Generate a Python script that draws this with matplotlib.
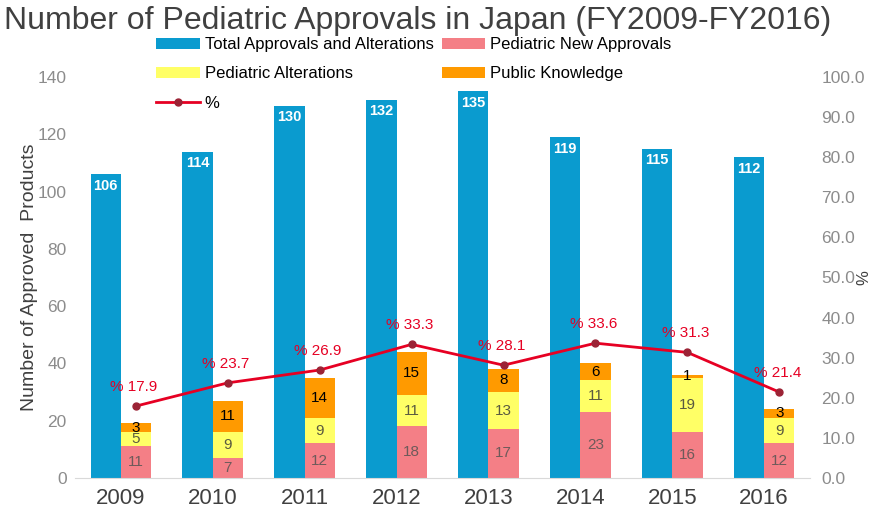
import matplotlib.pyplot as plt
import numpy as np

plt.rcParams['font.family'] = ['Liberation Sans', 'DejaVu Sans']

years = ['2009', '2010', '2011', '2012', '2013', '2014', '2015', '2016']
total = [106, 114, 130, 132, 135, 119, 115, 112]
new_appr = [11, 7, 12, 18, 17, 23, 16, 12]
alterations = [5, 9, 9, 11, 13, 11, 19, 9]
public = [3, 11, 14, 15, 8, 6, 1, 3]
pct = [17.9, 23.7, 26.9, 33.3, 28.1, 33.6, 31.3, 21.4]

c_blue = '#0A9BCF'
c_pink = '#F47F86'
c_yel = '#FFFF66'
c_org = '#FF9A00'
c_line = '#E60023'

fig = plt.figure(figsize=(8.71, 5.11), dpi=100)
ax = fig.add_axes([0.086, 0.065, 0.844, 0.784])
ax2 = ax.twinx()

x = np.arange(len(years))
w = 0.33

b1 = ax.bar(x - w / 2, total, w, color=c_blue, label='Total Approvals and Alterations')
b2 = ax.bar(x + w / 2, new_appr, w, color=c_pink, label='Pediatric New Approvals')
b3 = ax.bar(x + w / 2, alterations, w, bottom=new_appr, color=c_yel, label='Pediatric Alterations')
bot2 = np.array(new_appr) + np.array(alterations)
b4 = ax.bar(x + w / 2, public, w, bottom=bot2, color=c_org, label='Public Knowledge')

for i in range(len(years)):
    ax.text(x[i] - w / 2, total[i] - 1.5, str(total[i]), ha='center', va='top',
            color='white', fontsize=10.5, fontweight='bold')
    ax.text(x[i] + w / 2, new_appr[i] / 2, str(new_appr[i]), ha='center', va='center',
            color='#6e5a5a', fontsize=11)
    ax.text(x[i] + w / 2, new_appr[i] + alterations[i] / 2, str(alterations[i]),
            ha='center', va='center', color='#5a5a40', fontsize=11)
    ax.text(x[i] + w / 2, bot2[i] + public[i] / 2, str(public[i]), ha='center',
            va='center', color='black', fontsize=11)

l1, = ax2.plot(x + w / 2, pct, color=c_line, lw=2, marker='o', ms=5,
               mfc='#9b2335', mec='#9b2335', label='%')
for i in range(len(years)):
    ax2.text(x[i] + w / 2 - 0.28, pct[i] + 3, '% ' + str(pct[i]), ha='left',
             va='bottom', color=c_line, fontsize=11)

ax.set_xlim(-0.5, len(years) - 0.5)
ax.set_ylim(0, 140)
ax2.set_ylim(0, 100)
ax.set_yticks(range(0, 141, 20))
ax2.set_yticks(range(0, 101, 10))
ax2.set_yticklabels(['%.1f' % v for v in range(0, 101, 10)])
ax.set_xticks(x)
ax.set_xticklabels(years, fontsize=16, color='#404040')

for a in (ax, ax2):
    for s in a.spines.values():
        s.set_visible(False)
    a.tick_params(length=0)
ax.spines['bottom'].set_visible(True)
ax.spines['bottom'].set_color('#d9d9d9')
ax.tick_params(axis='y', labelsize=12.5, colors='#8c8c8c', pad=6)
ax.tick_params(axis='x', pad=7)
ax2.tick_params(axis='y', labelsize=12.5, colors='#8c8c8c', pad=8)

ax.set_ylabel('Number of Approved  Products', fontsize=14, color='#404040')
ax.yaxis.set_label_coords(-0.05, 0.5)
ax2.set_ylabel('%', fontsize=12, color='#404040')
ax2.yaxis.set_label_coords(1.063, 0.5)

fig.text(0.48, 0.958, 'Number of Pediatric Approvals in Japan (FY2009-FY2016)',
         ha='center', va='center', fontsize=23, color='#404040')

fig.legend(handles=[b1, b3, l1, b2, b4], ncol=2, loc='upper left',
           bbox_to_anchor=(0.172, 0.94), frameon=False, fontsize=12,
           handlelength=2.6, handleheight=0.6, columnspacing=0.5,
           labelspacing=0.85, handletextpad=0.3, borderaxespad=0)

plt.savefig('out.png')
